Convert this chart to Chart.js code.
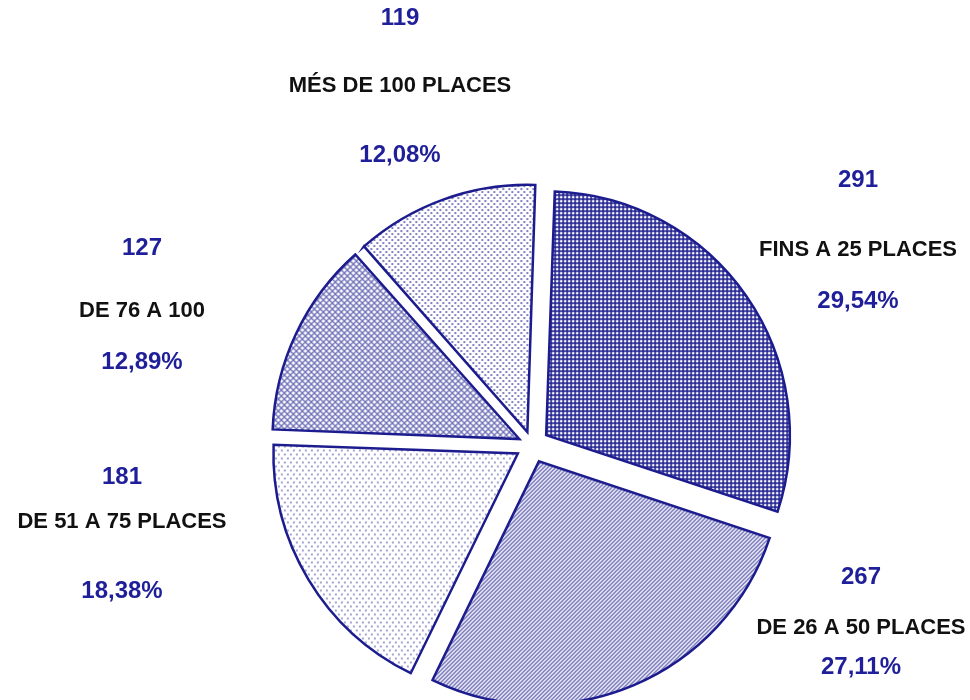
<!DOCTYPE html>
<html>
<head>
<meta charset="utf-8">
<script src="https://cdn.jsdelivr.net/npm/chart.js"></script>
<style>
  html, body { margin: 0; padding: 0; background: #fff; }
  #wrap { width: 970px; height: 700px; }
</style>
</head>
<body>
<div id="wrap"><canvas id="pie"></canvas></div>
<script>
// Chart data
const categories = ['FINS A 25 PLACES', 'DE 26 A 50 PLACES', 'DE 51 A 75 PLACES', 'DE 76 A 100', 'MÉS DE 100 PLACES'];
const counts = [291, 267, 181, 127, 119];

const NAVY = '#1c1c8e';
const TEXT_NAVY = '#1f1f99';

// Where each label block sits (x centre, y of count / name / percent lines)
const labelSpots = [
  { x: 858, y: [180, 250, 301] },
  { x: 861, y: [577, 628, 667] },
  { x: 122, y: [477, 522, 591] },
  { x: 142, y: [248, 311, 362] },
  { x: 400, y: [18, 86, 155] }
];

function makePattern(w, h, draw) {
  const c = document.createElement('canvas');
  c.width = w;
  c.height = h;
  const g = c.getContext('2d');
  g.fillStyle = '#fff';
  g.fillRect(0, 0, w, h);
  draw(g);
  return g.createPattern(c, 'repeat');
}

// Excel-like hatch fills
const gridFill = makePattern(4, 4, g => {
  g.fillStyle = 'rgba(28,28,142,0.78)';
  g.fillRect(0, 0, 4, 2);
  g.fillRect(0, 0, 2, 4);
});
const diagFill = makePattern(4, 4, g => {
  g.strokeStyle = 'rgba(28,28,142,0.7)';
  g.lineWidth = 1.3;
  g.beginPath();
  g.moveTo(-1, 5); g.lineTo(5, -1);
  g.moveTo(-1, 1); g.lineTo(1, -1);
  g.moveTo(3, 5); g.lineTo(5, 3);
  g.stroke();
});
const sparseDots = makePattern(6, 8, g => {
  g.fillStyle = 'rgba(28,28,142,0.4)';
  g.fillRect(1, 1, 2, 2);
  g.fillRect(4, 5, 2, 2);
});
const diamondFill = makePattern(6, 6, g => {
  g.strokeStyle = 'rgba(28,28,142,0.62)';
  g.lineWidth = 1.4;
  g.beginPath();
  g.moveTo(0, 0); g.lineTo(6, 6);
  g.moveTo(6, 0); g.lineTo(0, 6);
  g.stroke();
});
const denseDots = makePattern(6, 6, g => {
  g.fillStyle = 'rgba(28,28,142,0.55)';
  g.fillRect(0, 0, 2, 2);
  g.fillRect(3, 3, 2, 2);
});

const total = counts.reduce((a, b) => a + b, 0);
const percents = counts.map(v => (v / total * 100).toFixed(2).replace('.', ',') + '%');

const outsideLabels = {
  id: 'outsideLabels',
  afterDraw(chart) {
    const ctx = chart.ctx;
    ctx.save();
    ctx.textAlign = 'center';
    ctx.textBaseline = 'middle';
    labelSpots.forEach((spot, i) => {
      ctx.fillStyle = TEXT_NAVY;
      ctx.font = 'bold 24px "Liberation Sans", Arial, sans-serif';
      ctx.fillText(String(counts[i]), spot.x, spot.y[0]);
      ctx.fillStyle = '#111';
      ctx.font = 'bold 22px "Liberation Sans", Arial, sans-serif';
      ctx.fillText(categories[i], spot.x, spot.y[1]);
      ctx.fillStyle = TEXT_NAVY;
      ctx.font = 'bold 24px "Liberation Sans", Arial, sans-serif';
      ctx.fillText(percents[i], spot.x, spot.y[2]);
    });
    ctx.restore();
  }
};

new Chart(document.getElementById('pie'), {
  type: 'pie',
  data: {
    labels: categories,
    datasets: [{
      data: counts,
      backgroundColor: [gridFill, diagFill, sparseDots, diamondFill, denseDots],
      borderColor: NAVY,
      borderWidth: 2.5,
      borderJoinStyle: 'miter',
      offset: [69, 71, 66, 56, 55],
      radius: 243
    }]
  },
  options: {
    responsive: true,
    maintainAspectRatio: false,
    animation: false,
    rotation: 2,
    layout: { padding: { left: 94, top: 190, right: 0, bottom: 0 } },
    plugins: {
      legend: { display: false },
      tooltip: { enabled: false }
    }
  },
  plugins: [outsideLabels]
});
</script>
</body>
</html>
